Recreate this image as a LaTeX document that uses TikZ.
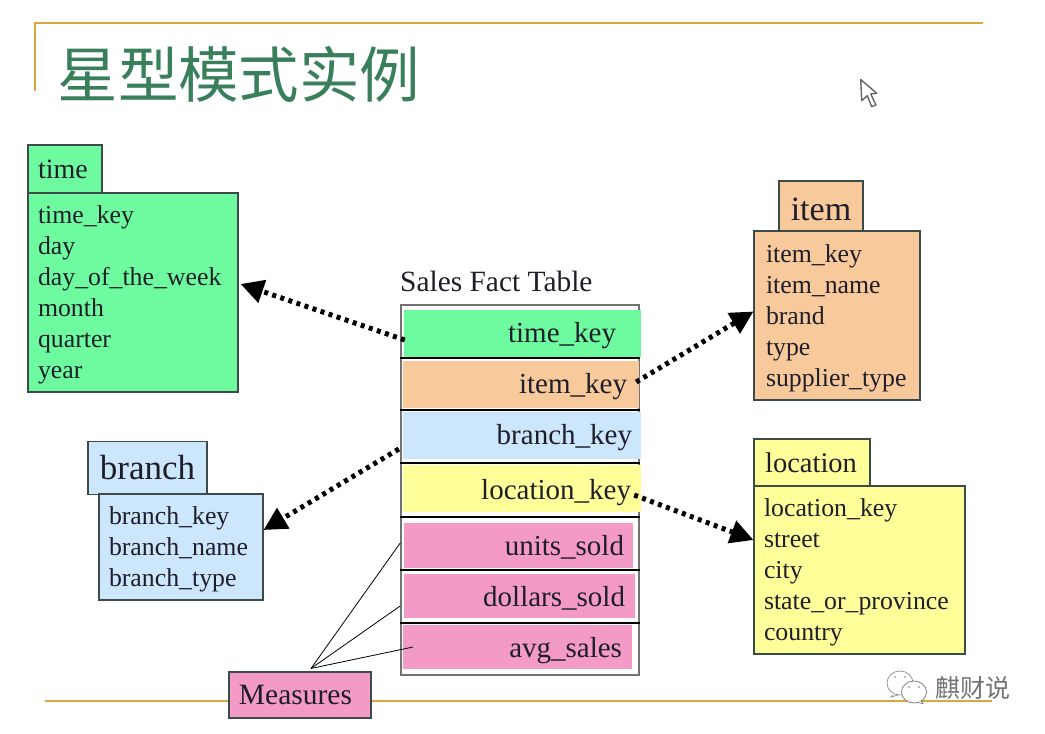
\documentclass[tikz,border=0pt]{standalone}
\usepackage{fontspec}
\setmainfont{Liberation Serif}
\newfontfamily\cjkfont{Noto Sans CJK SC}
\usetikzlibrary{arrows.meta,calc}
\definecolor{cgreen}{HTML}{6EFBA0}
\definecolor{corange}{HTML}{F8C99B}
\definecolor{cblue}{HTML}{CCE6FB}
\definecolor{cyellow}{HTML}{FFFF99}
\definecolor{cpink}{HTML}{F39BC6}
\definecolor{cgold}{HTML}{D9A63F}
\definecolor{ctitle}{HTML}{3A7F5C}
\definecolor{cink}{HTML}{1E1E2A}
\definecolor{cedge}{HTML}{3C4A4A}
\newcommand{\fsz}[1]{\fontsize{#1}{31}\selectfont}
\newcommand{\dropby}[2]{\raisebox{-#1pt}[0pt][0pt]{#2}}
\tikzset{
  x=1pt,y=-1pt,
  dimbox/.style={draw=cedge,line width=1.1pt,inner sep=0pt,text=cink,anchor=center},
  headbox/.style n args={3}{dimbox,fill=#1,minimum width=#2,minimum height=#3},
  listbox/.style n args={3}{dimbox,fill=#1,minimum width=#2,minimum height=#3,
     text width=#2-20pt,inner xsep=10pt,align=left,font=\fsz{25.8},
     execute at end node={\par\vspace*{-5pt}}},
  factrow/.style n args={4}{inner ysep=0pt,anchor=center,fill=#1,minimum height=#3,text=cink,
     minimum width=#2,inner xsep=#4,text width=#2-2*#4,align=right,font=\fsz{29}},
  sepline/.style={black,line width=2.6pt},
  linkarrow/.style={black,line width=5pt,dash pattern=on 4pt off 4.5pt,
     -{Triangle[length=23pt,width=23pt]}},
  measureline/.style={black,line width=0.8pt},
  goldrule/.style={cgold,line width=2.8pt},
}
\begin{document}
\begin{tikzpicture}
\useasboundingbox[fill=white] (0,0) rectangle (1045,734);
% slide frame
\coordinate (frameA) at (35,91);
\coordinate (frameB) at (35,23);
\coordinate (frameC) at (983,23);
\draw[goldrule,line join=miter] (frameA) -- (frameB) -- (frameC);
\coordinate (baseA) at (45,701);
\coordinate (baseB) at (992,701);
\draw[goldrule] (baseA) -- (baseB);
\node[text=ctitle,inner sep=0pt,anchor=center,font=\cjkfont\fontsize{60.5}{62}\selectfont] (title) at (239,74) {星型模式实例};
% cursor
\draw[fill=white,draw=black!60,line width=1.4pt,line join=round]
  (860.7,79.5) -- (861.7,100.7) -- (867.3,95.7) -- (871.7,106.7) -- (876,105) -- (870.7,94) -- (876.7,93.3) -- cycle;
% time
\node[headbox={cgreen}{74pt}{48pt},font=\fsz{28}] (timehead) at (65,169) {\hspace*{-4pt}time};
\node[listbox={cgreen}{210pt}{199pt}] (timebox) at (133,292.5) {time\_key\\day\\day\_of\_the\_week\\month\\quarter\\year};
% item
\node[headbox={corange}{84pt}{51pt},font=\fsz{34},text depth=0pt,text height=28pt] (itemhead) at (821,206.5) {item};
\node[listbox={corange}{166pt}{169pt},inner xsep=12pt,text width=142pt] (itembox) at (837,315.5) {item\_key\\item\_name\\brand\\type\\supplier\_type};
% location
\node[headbox={cyellow}{116pt}{47pt},font=\fsz{28.5}] (lochead) at (812,462.5) {\hspace*{-2pt}location};
\node[listbox={cyellow}{211pt}{168pt}] (locbox) at (859.5,570) {location\_key\\street\\city\\state\_or\_province\\country};
% branch
\node[headbox={cblue}{119pt}{53pt},font=\fsz{35}] (branchhead) at (147.5,468) {branch};
\node[listbox={cblue}{164pt}{106pt}] (branchbox) at (181,547) {branch\_key\\branch\_name\\branch\_type};
% fact table
\node[inner sep=0pt,anchor=west,text=cink,font=\fsz{29.4}] (facttitle) at (400,281) {Sales Fact Table};
\node[draw=black!55,line width=1.6pt,fill=white,minimum width=238pt,minimum height=370pt,inner sep=0pt] (fact) at (520,490) {};
\node[factrow={cgreen}{237pt}{47pt}{25pt}] (rowtime) at (522.5,333.5) {\dropby{9}{time\_key}};
\node[factrow={corange}{236pt}{47pt}{12pt}] (rowitem) at (521,384.5) {\dropby{9}{item\_key}};
\node[factrow={cblue}{238pt}{47pt}{9pt}] (rowbranch) at (522,435.5) {\dropby{9}{branch\_key}};
\node[factrow={cyellow}{238pt}{47pt}{10pt}] (rowloc) at (522,488.5) {\dropby{11}{location\_key}};
\node[factrow={cpink}{229pt}{45pt}{9pt}] (rowunits) at (518.5,545.5) {\dropby{10}{units\_sold}};
\node[factrow={cpink}{231pt}{44pt}{10pt}] (rowdollars) at (519.5,596) {\dropby{10}{dollars\_sold}};
\node[factrow={cpink}{229pt}{44pt}{10pt}] (rowavg) at (517.5,647) {\dropby{10}{avg\_sales}};
\foreach \yy in {358,410,463,517,570,623}{
  \draw[sepline] (fact.west |- 0,\yy) -- (fact.east |- 0,\yy);
}
% measures
\node[headbox={cpink}{142pt}{46pt},font=\fsz{29.5}] (measures) at (300,695) {\hspace*{-9pt}\raisebox{-2pt}{Measures}};
\coordinate (mroot) at ([shift={(11,-3)}]measures.north);
\draw[measureline] (mroot) -- (fact.west |- 0,543);
\draw[measureline] (mroot) -- (fact.west |- 0,606);
\draw[measureline] (mroot) -- ([shift={(-104.5,0)}]rowavg.center);
% links
\draw[linkarrow] ([shift={(1,6.5)}]rowtime.west) -- ([shift={(2,-8.5)}]timebox.east);
\draw[linkarrow] ([shift={(-3,-2.5)}]rowitem.east) -- ([shift={(0,-4)}]itembox.west);
\draw[linkarrow] ([shift={(-4,13.5)}]rowbranch.west) -- ([shift={(0,-17)}]branchbox.east);
\draw[linkarrow] ([shift={(-7,6.5)}]rowloc.east) -- ([shift={(0,-30)}]locbox.west);
% watermark
\draw[fill=white,draw=black!45,line width=0.7pt] (900,683) ellipse [x radius=13,y radius=12];
\draw[fill=white,draw=black!45,line width=0.7pt] (893,695) -- (891,697) -- (898,695);
\draw[fill=white,draw=black!55,line width=0.7pt] (914,692) ellipse [x radius=12.5,y radius=11];
\draw[fill=white,draw=black!55,line width=0.7pt] (917,702.5) -- (923,703.5) -- (921,701);
\fill[black!50] (895,677) circle (0.9) (905,677) circle (0.9) (909,687) circle (0.9) (919,687) circle (0.9);
\node[inner sep=0pt,anchor=center,text=black!55,font=\cjkfont\fontsize{25}{26}\selectfont] (mark) at (973,688) {麒财说};
\end{tikzpicture}
\end{document}
